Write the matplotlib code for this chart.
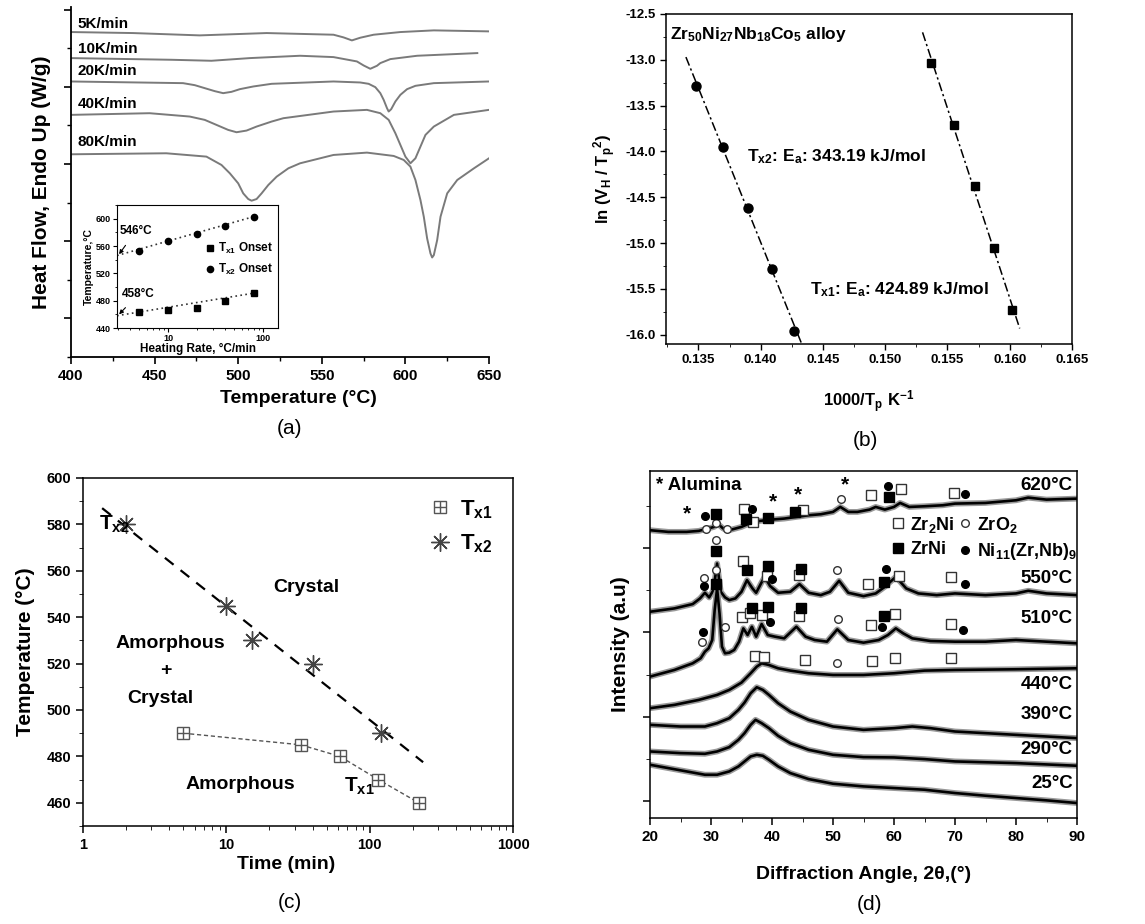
import matplotlib
matplotlib.use("Agg")
import matplotlib.pyplot as plt
from matplotlib.lines import Line2D
from matplotlib.ticker import MultipleLocator, NullFormatter, LogLocator

plt.rcParams["font.family"] = ["Liberation Sans", "DejaVu Sans"]
plt.rcParams["font.weight"] = "bold"
plt.rcParams["axes.labelweight"] = "bold"
plt.rcParams["mathtext.fontset"] = "custom"
plt.rcParams["mathtext.rm"] = "Liberation Sans:bold"
plt.rcParams["mathtext.it"] = "Liberation Sans:bold"
plt.rcParams["mathtext.bf"] = "Liberation Sans:bold"
plt.rcParams["xtick.direction"] = "out"
plt.rcParams["ytick.direction"] = "out"

# ---------------- (a) DSC traces (heat flow, arbitrary units) ----------------
t_5 = [400, 437, 477, 517, 557, 563, 568, 573, 581, 597, 617, 650]
hf_5 = [857, 854, 847, 854, 849, 841, 832, 840, 849, 857, 862, 859]

t_10 = [400, 460, 484, 507, 537, 557, 571, 575, 579, 583, 585, 591, 607, 643]
hf_10 = [779, 774, 771, 779, 786, 782, 769, 757, 747, 756, 764, 776, 786, 794]

t_20 = [400, 467, 474, 480, 486, 491, 496, 501, 509, 520, 557, 573, 578, 582,
        585, 587, 589, 590, 591.5, 594, 597, 601, 606, 617, 650]
hf_20 = [709, 704, 698, 689, 680, 674, 678, 686, 694, 702, 709, 706, 702, 692,
         674, 654, 629, 619, 626, 649, 669, 686, 696, 704, 709]

t_40 = [400, 447, 471, 480, 487, 494, 499, 505, 511, 520, 527, 557, 577, 585,
        590, 594, 597, 600, 603, 606, 609, 612, 617, 629, 650]
hf_40 = [609, 614, 604, 594, 579, 564, 557, 562, 574, 589, 599, 619, 624, 614,
         594, 554, 519, 484, 464, 479, 514, 549, 574, 609, 624]

t_80 = [400, 457, 481, 490, 495, 500, 503, 506, 508, 511, 514, 518, 523, 530,
        537, 557, 577, 593, 599, 603, 606, 609, 611, 613, 615, 616, 617, 619,
        621, 625, 631, 641, 650]
hf_80 = [491, 494, 484, 459, 434, 404, 374, 357, 352, 357, 374, 399, 424, 449,
         464, 489, 496, 486, 474, 454, 414, 354, 304, 239, 194, 182, 189, 234,
         304, 374, 414, 449, 479]

rate_labels = ["5K/min", "10K/min", "20K/min", "40K/min", "80K/min"]
rate_label_y = [880, 805, 739, 642, 529]

# inset: onset temperature vs heating rate
rates = [5, 10, 20, 40, 80]
tx1_onset = [464, 466, 470, 479, 491]
tx2_onset = [553, 568, 577, 589, 602]
fit_rates = [2.9, 80]
fit_tx1 = [458, 491]
fit_tx2 = [546, 603]

# ---------------- (b) Kissinger plot ----------------
kis_x2 = [0.1348, 0.1370, 0.1390, 0.1409, 0.1427]
kis_y2 = [-13.29, -13.955, -14.62, -15.285, -15.96]
kis_x1 = [0.1537, 0.1555, 0.1572, 0.1587, 0.1602]
kis_y1 = [-13.03, -13.71, -14.376, -15.056, -15.73]
fit2_x = [0.1340, 0.1433]
fit2_y = [-12.97, -16.10]
fit1_x = [0.1530, 0.1608]
fit1_y = [-12.70, -15.93]

# ---------------- (c) TTT diagram ----------------
time_tx2 = [2, 10, 15, 40, 120]
temp_tx2 = [580, 545, 530, 520, 490]
time_tx1 = [5, 33, 62, 115, 220]
temp_tx1 = [490, 485, 480, 470, 460]
fit_time = [1.36, 236]
fit_temp = [587, 477.5]

# ---------------- (d) XRD patterns (intensity, arbitrary units) ----------------
xrd = {}
xrd["25"] = ([20, 23, 26, 29, 31, 33, 34.5, 35.5, 36.5, 37.5, 38.5, 39.5, 41, 43,
              46, 50, 55, 60, 65, 70, 75, 80, 85, 90],
             [110, 100, 90, 80, 80, 90, 105, 120, 135, 140, 137, 125, 105, 85,
              67, 53, 45, 40, 35, 25, 17, 10, 3, -5])
xrd["290"] = ([20, 25, 29, 31, 33, 34.5, 35.5, 36.5, 37.3, 38.3, 39.5, 41, 43, 46,
               50, 55, 60, 65, 70, 80, 90],
              [150, 145, 143, 150, 163, 185, 205, 230, 245, 235, 220, 197, 175, 155,
               140, 133, 132, 127, 120, 115, 107])
xrd["390"] = ([20, 25, 29, 31, 33, 34.5, 35.5, 36.5, 37.5, 38.5, 39.5, 41, 43, 46,
               50, 55, 60, 63, 66, 70, 80, 90],
              [230, 225, 225, 235, 250, 275, 297, 325, 343, 335, 320, 295, 270, 245,
               225, 215, 220, 225, 220, 210, 200, 190])
xrd["440"] = ([20, 24, 28, 31, 33, 35, 36.5, 37.5, 38.3, 39.5, 41, 43, 46, 50, 55,
               60, 65, 70, 80, 90],
              [280, 290, 305, 320, 335, 357, 385, 405, 415, 410, 400, 393, 385, 380,
               380, 385, 393, 395, 397, 400])
xrd["510"] = ([20, 24, 27, 28.3, 29.0, 29.6, 30.2, 30.6, 31.0, 31.4, 31.8, 32.3,
               33.0, 33.8, 34.6, 35.3, 36.0, 36.7, 37.4, 38.3, 39.3, 40.5, 42, 44,
               45.5, 47, 49, 50.7, 52.5, 55, 57.5, 59, 60.3, 61.5, 63, 66, 70, 75,
               80, 85, 90],
              [375, 395, 415, 430, 450, 460, 485, 575, 640, 565, 465, 445, 447, 455,
               480, 520, 500, 525, 495, 533, 500, 495, 490, 525, 495, 485, 480, 517,
               485, 477, 485, 500, 520, 505, 490, 482, 480, 480, 485, 480, 475])
xrd["550"] = ([20, 24, 27, 28.2, 29.0, 29.7, 30.4, 31.0, 31.6, 32.3, 33.0, 34.0,
               35.0, 35.9, 36.8, 37.4, 38.2, 38.8, 39.7, 41, 43, 44.5, 46, 48, 49.5,
               51, 52.5, 55, 57, 58.5, 60.3, 62, 64, 67, 70, 75, 80, 82, 85, 90],
              [570, 580, 593, 610, 627, 613, 635, 715, 630, 613, 605, 610, 630, 665,
               640, 627, 655, 675, 647, 627, 630, 653, 627, 620, 630, 663, 627, 617,
               625, 645, 675, 640, 625, 620, 625, 620, 625, 633, 625, 620])
xrd["620"] = ([20, 23, 26, 28, 29.5, 30.5, 31.2, 32, 33, 35, 36.5, 38, 40, 42, 44,
               46, 48, 50, 51.2, 52.5, 54, 56, 57, 58.5, 60, 61, 62.5, 65, 68, 70,
               75, 80, 82, 85, 90],
              [815, 810, 810, 813, 820, 825, 833, 820, 815, 825, 837, 843, 847, 850,
               855, 860, 863, 870, 885, 870, 870, 877, 885, 877, 885, 897, 885, 887,
               890, 895, 897, 905, 913, 907, 910])
xrd_labels = ["620", "550", "510", "440", "390", "290", "25"]
xrd_label_y = [950, 670, 550, 350, 260, 155, 55]

zr2ni_x = [35.4, 36.9, 45.0, 56.2, 61.1, 69.8, 35.3, 39.1, 44.4, 55.7, 60.8, 69.4,
           35.0, 36.4, 38.3, 44.4, 56.3, 60.2, 69.3, 37.2, 38.7, 45.4, 56.4, 60.2, 69.4]
zr2ni_y = [878, 840, 877, 922, 940, 927, 723, 677, 680, 653, 677, 675,
           555, 567, 560, 557, 530, 563, 533, 437, 435, 425, 422, 430, 430]
zro2_x = [29.2, 30.8, 32.7, 51.3, 30.8, 28.9, 50.7, 30.8, 28.6, 32.3, 50.9, 50.7]
zro2_y = [820, 837, 818, 910, 785, 670, 695, 695, 480, 525, 547, 415]
zrni_x = [30.9, 35.7, 39.3, 43.7, 59.1, 30.9, 35.9, 39.3, 44.7, 58.4, 30.9, 36.7,
          39.3, 44.7, 58.3]
zrni_y = [863, 850, 853, 870, 915, 753, 695, 707, 697, 660, 653, 582, 585, 580, 558]
ni11_x = [29.0, 36.8, 59.0, 71.6, 28.9, 40.0, 58.7, 71.7, 28.7, 39.7, 58.1, 71.3]
ni11_y = [857, 880, 947, 923, 648, 668, 698, 653, 510, 540, 525, 515]
alumina_x = [26.0, 40.1, 44.3, 52.0]
alumina_y = [865, 900, 920, 950]

W, H = 1145, 924


def rect(l, t, r, b):
    return [l / W, 1 - b / H, (r - l) / W, (b - t) / H]


fig = plt.figure(figsize=(W / 100, H / 100), dpi=100)

# ---------------- panel (a) ----------------
ax = fig.add_axes(rect(71, 7, 489, 357))
for t, hf in [(t_5, hf_5), (t_10, hf_10), (t_20, hf_20), (t_40, hf_40), (t_80, hf_80)]:
    ax.plot(t, hf, color="#7a7a7a", lw=1.4)
for lab, y in zip(rate_labels, rate_label_y):
    ax.text(404, y, lab, fontsize=11, va="center", ha="left")
ax.set_xlim(400, 650)
ax.set_ylim(-116, 932)
ax.spines["top"].set_visible(False)
ax.spines["right"].set_visible(False)
ax.spines["left"].set_linewidth(1.3)
ax.spines["bottom"].set_linewidth(1.3)
ax.xaxis.set_major_locator(MultipleLocator(50))
ax.xaxis.set_minor_locator(MultipleLocator(25))
ax.yaxis.set_major_locator(MultipleLocator(231))
ax.yaxis.set_minor_locator(MultipleLocator(115.5))
ax.yaxis.set_major_formatter(NullFormatter())
ax.tick_params(which="major", length=5, width=1.2, labelsize=11)
ax.tick_params(which="minor", length=3, width=1)
ax.set_xlabel("Temperature (°C)", fontsize=14, labelpad=3)
ax.xaxis.set_label_coords(0.543, -0.095)
ax.set_ylabel("Heat Flow, Endo Up (W/g)", fontsize=15, labelpad=6)

ins = fig.add_axes(rect(117, 205, 278, 328))
ins.plot(fit_rates, fit_tx1, ls=(0, (1, 2)), color="#333333", lw=1.2)
ins.plot(fit_rates, fit_tx2, ls=(0, (1, 2)), color="#333333", lw=1.2)
ins.plot(rates, tx1_onset, "s", color="black", ms=4.5, label="T$_{x1}$ Onset")
ins.plot(rates, tx2_onset, "o", color="black", ms=4.5, label="T$_{x2}$ Onset")
ins.set_xscale("log")
ins.set_xlim(2.9, 144)
ins.set_ylim(440, 620)
ins.xaxis.set_major_formatter(plt.FuncFormatter(lambda v, p: f"{v:g}"))
ins.yaxis.set_major_locator(MultipleLocator(40))
ins.yaxis.set_minor_locator(MultipleLocator(20))
ins.tick_params(which="major", labelsize=6.5, length=3, pad=1.5)
ins.tick_params(which="minor", length=1.5)
ins.set_xlabel("Heating Rate, °C/min", fontsize=8.5, labelpad=0)
ins.set_ylabel("Temperature,°C", fontsize=7.5, labelpad=1)
ins.legend(loc="center right", frameon=False, fontsize=8.5, handletextpad=0.1,
           handlelength=1.2, bbox_to_anchor=(1.0, 0.56), borderaxespad=0)
ins.annotate("546°C", xy=(3.05, 548), xytext=(4.6, 582), fontsize=8.5, ha="center",
             va="center", arrowprops=dict(arrowstyle="-|>", color="black", lw=0.8,
                                          mutation_scale=6, shrinkA=5, shrinkB=0))
ins.annotate("458°C", xy=(3.05, 460), xytext=(4.9, 490), fontsize=8.5, ha="center",
             va="center", arrowprops=dict(arrowstyle="-|>", color="black", lw=0.8,
                                          mutation_scale=6, shrinkA=5, shrinkB=0))

# ---------------- panel (b) ----------------
bx = fig.add_axes(rect(666, 14, 1072, 344))
dashdot = (0, (6, 2, 1.5, 2))
bx.plot(fit2_x, fit2_y, ls=dashdot, color="black", lw=1.1)
bx.plot(fit1_x, fit1_y, ls=dashdot, color="black", lw=1.1)
bx.plot(kis_x2, kis_y2, "o", color="black", ms=6.5)
bx.plot(kis_x1, kis_y1, "s", color="black", ms=5.5)
bx.set_xlim(0.1324, 0.165)
bx.set_ylim(-16.1, -12.5)
bx.xaxis.set_major_locator(MultipleLocator(0.005))
bx.xaxis.set_minor_locator(MultipleLocator(0.0025))
bx.yaxis.set_major_locator(MultipleLocator(0.5))
bx.yaxis.set_minor_locator(MultipleLocator(0.25))
bx.xaxis.set_major_formatter(plt.FuncFormatter(lambda v, p: f"{v:.3f}"))
bx.yaxis.set_major_formatter(plt.FuncFormatter(lambda v, p: f"{v:.1f}"))
bx.tick_params(which="major", labelsize=9.5, length=4, width=1)
bx.tick_params(which="minor", length=2.5)
for s in bx.spines.values():
    s.set_linewidth(1.1)
bx.set_xlabel("1000/T$_p$ K$^{-1}$", fontsize=12, labelpad=16)
bx.set_ylabel("ln (V$_H$ / T$_p$$^2$)", fontsize=12, labelpad=5)
bx.text(0.1327, -12.72, "Zr$_{50}$Ni$_{27}$Nb$_{18}$Co$_5$ alloy", fontsize=12.5,
        va="center", ha="left")
bx.text(0.1389, -14.06, "T$_{x2}$: E$_a$: 343.19 kJ/mol", fontsize=12.5, va="center")
bx.text(0.1440, -15.51, "T$_{x1}$: E$_a$: 424.89 kJ/mol", fontsize=12.5, va="center")

# ---------------- panel (c) ----------------
cx = fig.add_axes(rect(83, 478, 513, 826))
cx.plot(fit_time, fit_temp, ls=(0, (5, 4)), color="black", lw=1.6)
cx.plot(time_tx1, temp_tx1, ls=(0, (3, 2)), color="#555555", lw=1.0)
sq = cx.plot(time_tx1, temp_tx1, "s", mfc="white", mec="#555555", ms=8, mew=1.0,
             ls="none")[0]
pl = cx.plot(time_tx1, temp_tx1, "+", color="#555555", ms=8, mew=1.0, ls="none")[0]
st = cx.plot(time_tx2, temp_tx2, marker=(8, 2, 0), color="#444444", ms=13, mew=1.0,
             ls="none")[0]
cx.set_xscale("log")
cx.set_xlim(1, 1000)
cx.set_ylim(450, 600)
cx.yaxis.set_major_locator(MultipleLocator(20))
cx.yaxis.set_minor_locator(MultipleLocator(10))
cx.xaxis.set_major_locator(LogLocator(base=10))
cx.xaxis.set_major_formatter(plt.FuncFormatter(lambda v, p: f"{v:g}"))
cx.tick_params(which="major", labelsize=10.5, length=5, width=1.1)
cx.tick_params(which="minor", length=3)
for s in cx.spines.values():
    s.set_linewidth(1.1)
cx.set_xlabel("Time (min)", fontsize=14, labelpad=4)
cx.xaxis.set_label_coords(0.472, -0.085)
cx.set_ylabel("Temperature (°C)", fontsize=15, labelpad=8)
cx.text(1.3, 580, "T$_{x2}$", fontsize=15, va="center", ha="left")
cx.text(36, 553, "Crystal", fontsize=14, ha="center", va="center")
cx.text(4.06, 528.6, "Amorphous", fontsize=14, ha="center", va="center")
cx.text(3.78, 517, "+", fontsize=14, ha="center", va="center")
cx.text(3.45, 505, "Crystal", fontsize=14, ha="center", va="center")
cx.text(12.5, 468, "Amorphous", fontsize=14, ha="center", va="center")
cx.text(85, 467, "T$_{x1}$", fontsize=15, ha="center", va="center")
cx.legend([(sq, pl), st], ["T$_{x1}$", "T$_{x2}$"], loc="upper right", frameon=False,
          fontsize=16, handletextpad=0.4, handlelength=1.0, labelspacing=0.55,
          bbox_to_anchor=(1.0, 1.0))

# ---------------- panel (d) ----------------
dx = fig.add_axes(rect(650, 471, 1077, 818))
for key in xrd_labels:
    xs, ys = xrd[key]
    dx.plot(xs, ys, color="#999999", lw=4.2, solid_joinstyle="round")
    dx.plot(xs, ys, color="black", lw=1.9)
for key, y in zip(xrd_labels, xrd_label_y):
    dx.text(89.3, y, key + "°C", fontsize=13.5, ha="right", va="center")
dx.plot(zr2ni_x, zr2ni_y, "s", mfc="white", mec="#333333", ms=7, mew=1.0, ls="none")
dx.plot(zro2_x, zro2_y, "o", mfc="white", mec="#333333", ms=5.5, mew=1.0, ls="none")
dx.plot(zrni_x, zrni_y, "s", color="black", ms=7, ls="none")
dx.plot(ni11_x, ni11_y, "o", color="black", ms=5.5, ls="none")
for x, y in zip(alumina_x, alumina_y):
    dx.text(x, y, "*", fontsize=15, ha="center", va="center")
dx.text(21.0, 950, "* Alumina", fontsize=13.5, ha="left", va="center")
hz = [Line2D([], [], marker="s", mfc="white", mec="#333333", ms=7, ls="none"),
      Line2D([], [], marker="s", color="black", ms=7, ls="none"),
      Line2D([], [], marker="o", mfc="white", mec="#333333", ms=5.5, ls="none"),
      Line2D([], [], marker="o", color="black", ms=5.5, ls="none")]
dx.legend(hz, ["Zr$_2$Ni", "ZrNi", "ZrO$_2$", "Ni$_{11}$(Zr,Nb)$_9$"], ncol=2,
          loc="upper left", bbox_to_anchor=(0.546, 0.895), frameon=False,
          fontsize=13, handlelength=0.8, handletextpad=0.3, columnspacing=0.15,
          labelspacing=0.35, borderaxespad=0)
dx.set_xlim(20, 90)
dx.set_ylim(-50, 993)
dx.xaxis.set_major_locator(MultipleLocator(10))
dx.xaxis.set_minor_locator(MultipleLocator(5))
dx.yaxis.set_major_locator(MultipleLocator(254))
dx.yaxis.set_minor_locator(MultipleLocator(127))
dx.yaxis.set_major_formatter(NullFormatter())
dx.tick_params(which="major", labelsize=11, length=5, width=1.1)
dx.tick_params(which="minor", length=3)
for s in dx.spines.values():
    s.set_linewidth(1.1)
dx.set_xlabel("Diffraction Angle, 2θ,(°)", fontsize=14, labelpad=16)
dx.set_ylabel("Intensity (a.u)", fontsize=15, labelpad=6)

# panel letters
for lab, x, y in [("(a)", 290, 428), ("(b)", 865, 440), ("(c)", 290, 903),
                  ("(d)", 870, 905)]:
    fig.text(x / W, 1 - y / H, lab, fontsize=15, fontweight="normal",
             ha="center", va="center")

fig.savefig("out.png", dpi=100)
